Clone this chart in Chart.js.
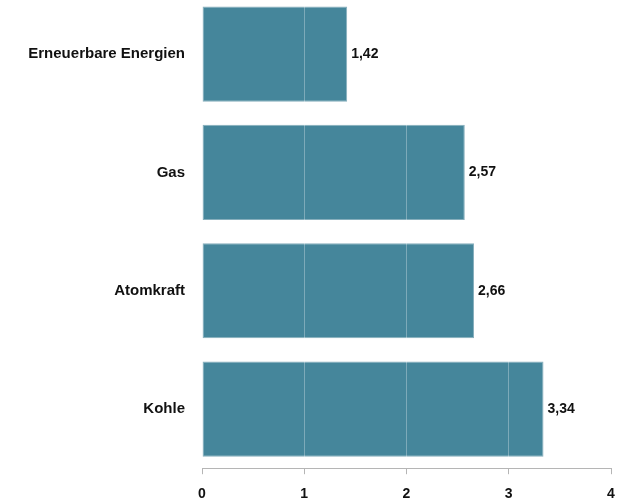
<!DOCTYPE html>
<html>
<head>
<meta charset="utf-8">
<script src="https://cdn.jsdelivr.net/npm/chart.js@4"></script>
<style>
  html, body { margin: 0; padding: 0; background: #fff; overflow: hidden; }
  canvas { display: block; margin-top: -5px; }
</style>
</head>
<body>
<canvas id="chart" width="628" height="520"></canvas>
<script>
const kategorien = ['Erneuerbare Energien', 'Gas', 'Atomkraft', 'Kohle'];
const werte = [1.42, 2.57, 2.66, 3.34];
const achsenTicks = [0, 1, 2, 3, 4];

// Werte rechts neben die Balken schreiben (deutsches Komma)
const wertLabels = {
    id: 'wertLabels',
    afterDatasetsDraw(chart) {
        const ctx = chart.ctx;
        const meta = chart.getDatasetMeta(0);
        ctx.save();
        ctx.font = 'bold 14px "Liberation Sans", Arial, sans-serif';
        ctx.fillStyle = '#111';
        ctx.textAlign = 'left';
        ctx.textBaseline = 'middle';
        meta.data.forEach((bar, i) => {
            ctx.fillText(werte[i].toFixed(2).replace('.', ','), bar.x + 4, bar.y);
        });
        ctx.restore();
    }
};

new Chart(document.getElementById('chart'), {
    type: 'bar',
    data: {
        labels: kategorien,
        datasets: [{
            data: werte,
            backgroundColor: '#45869b',
            borderColor: '#86aebc',
            borderWidth: 1,
            borderSkipped: false,
            categoryPercentage: 0.805,
            barPercentage: 1
        }]
    },
    options: {
        indexAxis: 'y',
        responsive: false,
        animation: false,
        layout: { padding: { top: 0, right: 17, bottom: 0, left: 0 } },
        plugins: {
            legend: { display: false },
            tooltip: { enabled: false }
        },
        scales: {
            x: {
                min: 0,
                max: 4,
                afterBuildTicks: (scale) => {
                    scale.ticks = achsenTicks.map(v => ({ value: v }));
                },
                grid: {
                    z: 1,
                    color: 'rgba(255,255,255,0.3)',
                    tickColor: '#b5b5b5',
                    tickLength: 6,
                    lineWidth: 1
                },
                border: { z: 2, color: '#b5b5b5', width: 1 },
                ticks: {
                    color: '#111',
                    padding: 12,
                    font: { family: '"Liberation Sans", Arial, sans-serif', size: 14, weight: 'bold' }
                }
            },
            y: {
                afterFit: (scale) => {
                    scale.width = 202;
                    scale.paddingTop = 0;
                    scale.paddingBottom = 0;
                },
                grid: { display: false },
                border: { display: false },
                ticks: {
                    color: '#111',
                    padding: 9,
                    font: { family: '"Liberation Sans", Arial, sans-serif', size: 15, weight: 'bold' }
                }
            }
        }
    },
    plugins: [wertLabels]
});
</script>
</body>
</html>
